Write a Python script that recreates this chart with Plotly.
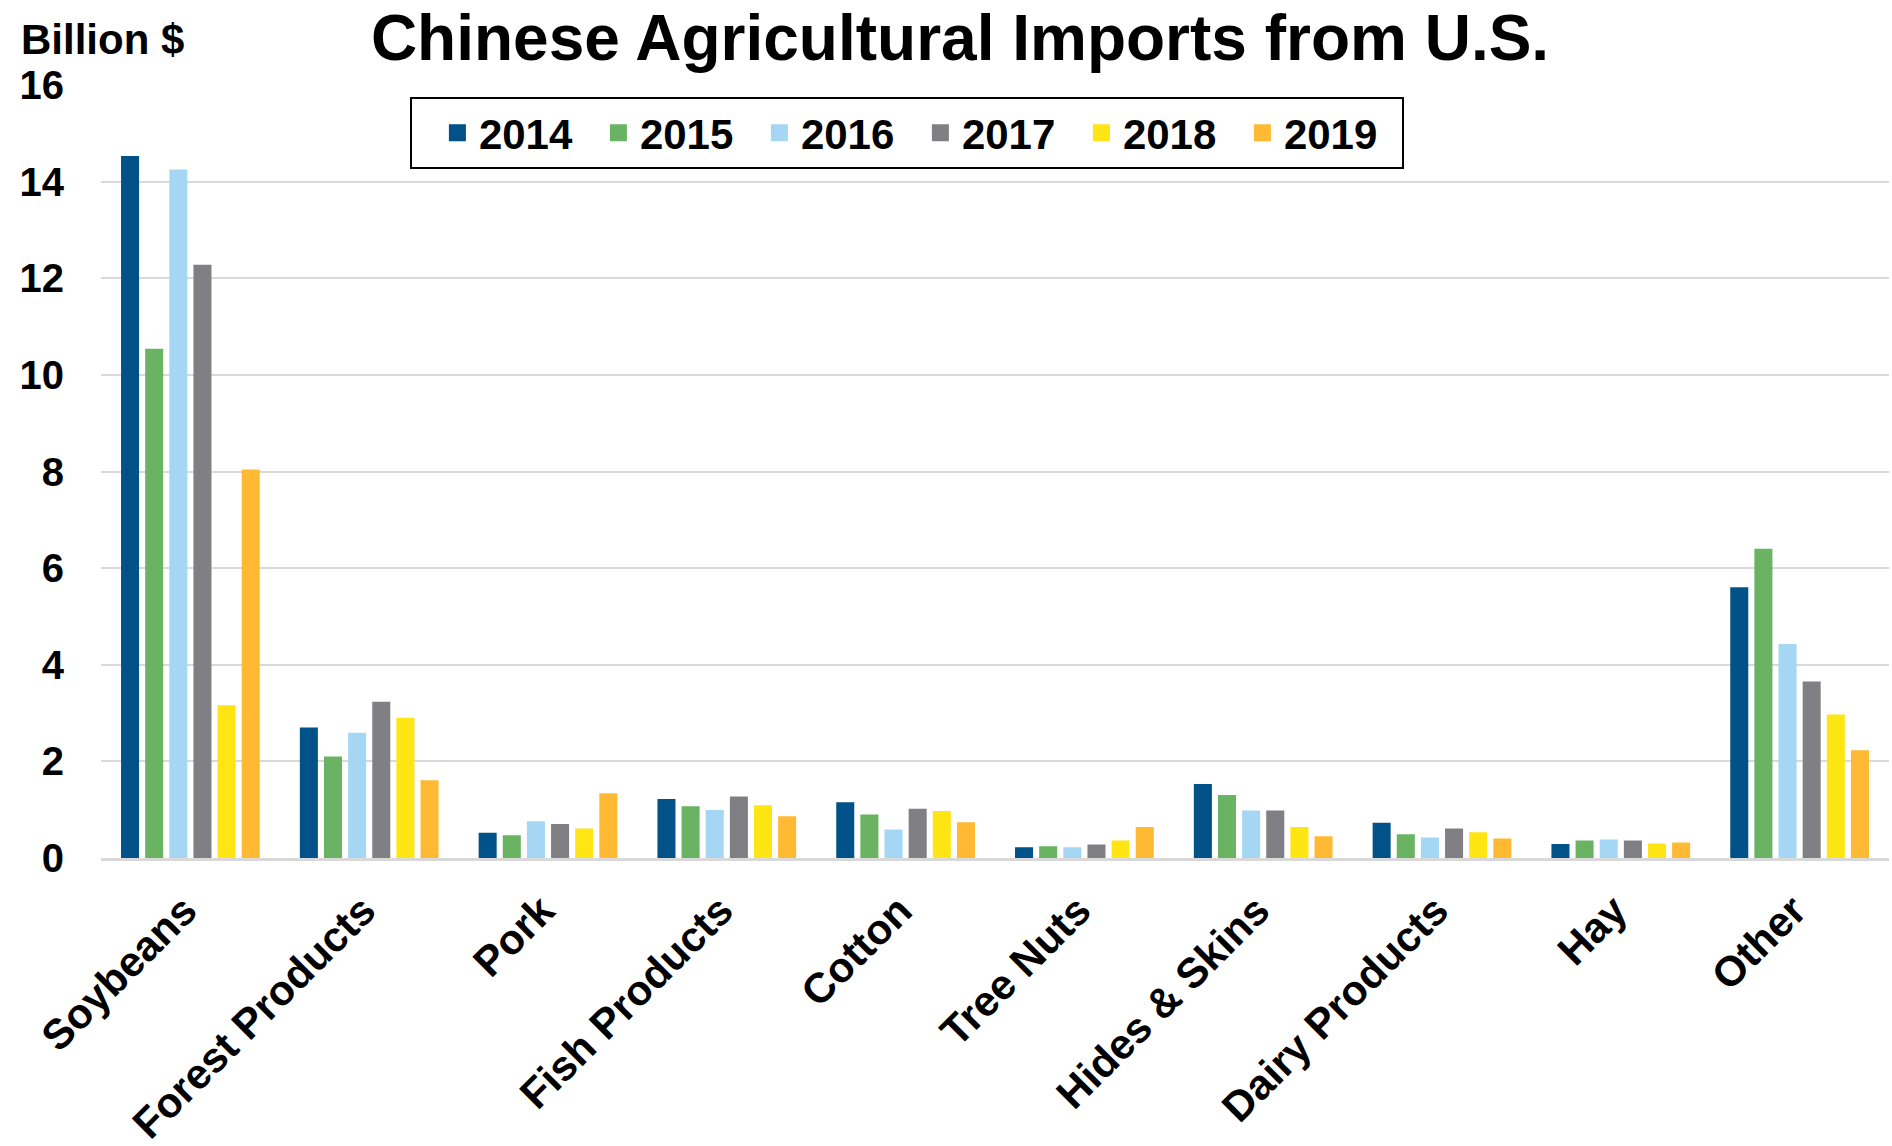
import plotly.graph_objects as go

categories = ["Soybeans", "Forest Products", "Pork", "Fish Products", "Cotton",
              "Tree Nuts", "Hides & Skins", "Dairy Products", "Hay", "Other"]
years = ["2014", "2015", "2016", "2017", "2018", "2019"]

v2014 = [14.48, 2.65, 0.47, 1.17, 1.10, 0.17, 1.48, 0.68, 0.24, 5.55]
v2015 = [10.49, 2.05, 0.42, 1.02, 0.85, 0.19, 1.25, 0.44, 0.31, 6.35]
v2016 = [14.20, 2.54, 0.71, 0.94, 0.54, 0.17, 0.93, 0.37, 0.33, 4.38]
v2017 = [12.23, 3.18, 0.65, 1.22, 0.97, 0.23, 0.93, 0.56, 0.31, 3.60]
v2018 = [3.11, 2.85, 0.56, 1.04, 0.92, 0.31, 0.59, 0.48, 0.25, 2.92]
v2019 = [7.99, 1.56, 1.29, 0.81, 0.69, 0.59, 0.40, 0.35, 0.27, 2.18]
series = [v2014, v2015, v2016, v2017, v2018, v2019]

colors = ["#005288", "#69B362", "#A5D7F4", "#808084", "#FFE513", "#FFB933"]

yticks = [0, 2, 4, 6, 8, 10, 12, 14, 16]

FONT = "Liberation Sans, Arial, sans-serif"

# body margin is removed in the page (post_script), so figure coords = page coords
W, H = 1892, 1146
L, R, T, B = 101, 3, 85, 288
PW, PH = W - L - R, H - T - B

fig = go.Figure()
for name, vals, col in zip(years, series, colors):
    fig.add_trace(go.Bar(x=categories, y=vals, name=name, marker_color=col,
                         marker_line=dict(color=col, width=5)))

fig.update_layout(
    width=W, height=H,
    margin=dict(l=L, r=R, t=T, b=B, pad=0),
    paper_bgcolor="white", plot_bgcolor="white",
    barmode="group", bargap=0.19, bargroupgap=0.46,
    font=dict(family=FONT, color="black", size=40, weight="bold"),
    title=dict(text="Chinese Agricultural Imports from U.S.",
               font=dict(family=FONT, size=64, color="black", weight="bold"),
               x=960 / W, xanchor="center", xref="container",
               y=1 - 38 / H, yanchor="middle", yref="container"),
    legend=dict(orientation="h", x=(410 - L) / PW, xanchor="left",
                y=(858 - 97) / PH, yanchor="top",
                bordercolor="black", borderwidth=2, bgcolor="white",
                font=dict(family=FONT, size=42, color="black", weight="bold"),
                title=dict(text="\u00a0" * 5, side="left",
                           font=dict(family=FONT, size=10, color="black")),
                itemwidth=33, entrywidth=113, traceorder="normal"),
    xaxis=dict(tickangle=-45, showline=True, linecolor="#D9D9D9", linewidth=3,
               tickfont=dict(family=FONT, size=42, color="black", weight="bold"),
               showgrid=False, ticks="", ticklabelstandoff=8, ticklabelshift=-6,
               automargin=False),
    yaxis=dict(range=[0, 16], tickvals=yticks, showgrid=True, gridcolor="#D9D9D9",
               gridwidth=2, zeroline=False, ticks="", ticklabelstandoff=36,
               automargin=False,
               tickfont=dict(family=FONT, size=40, color="black", weight="bold")),
    annotations=[dict(text="Billion $", xref="paper", yref="paper",
                      x=(19 - L) / PW, xanchor="left",
                      y=1 + 46 / PH, yanchor="middle", showarrow=False,
                      font=dict(family=FONT, size=42, color="black", weight="bold"))],
)

fig.write_html("out.html", config={"displayModeBar": False},
               post_script="document.body.style.margin='0';document.body.style.overflow='hidden';")
